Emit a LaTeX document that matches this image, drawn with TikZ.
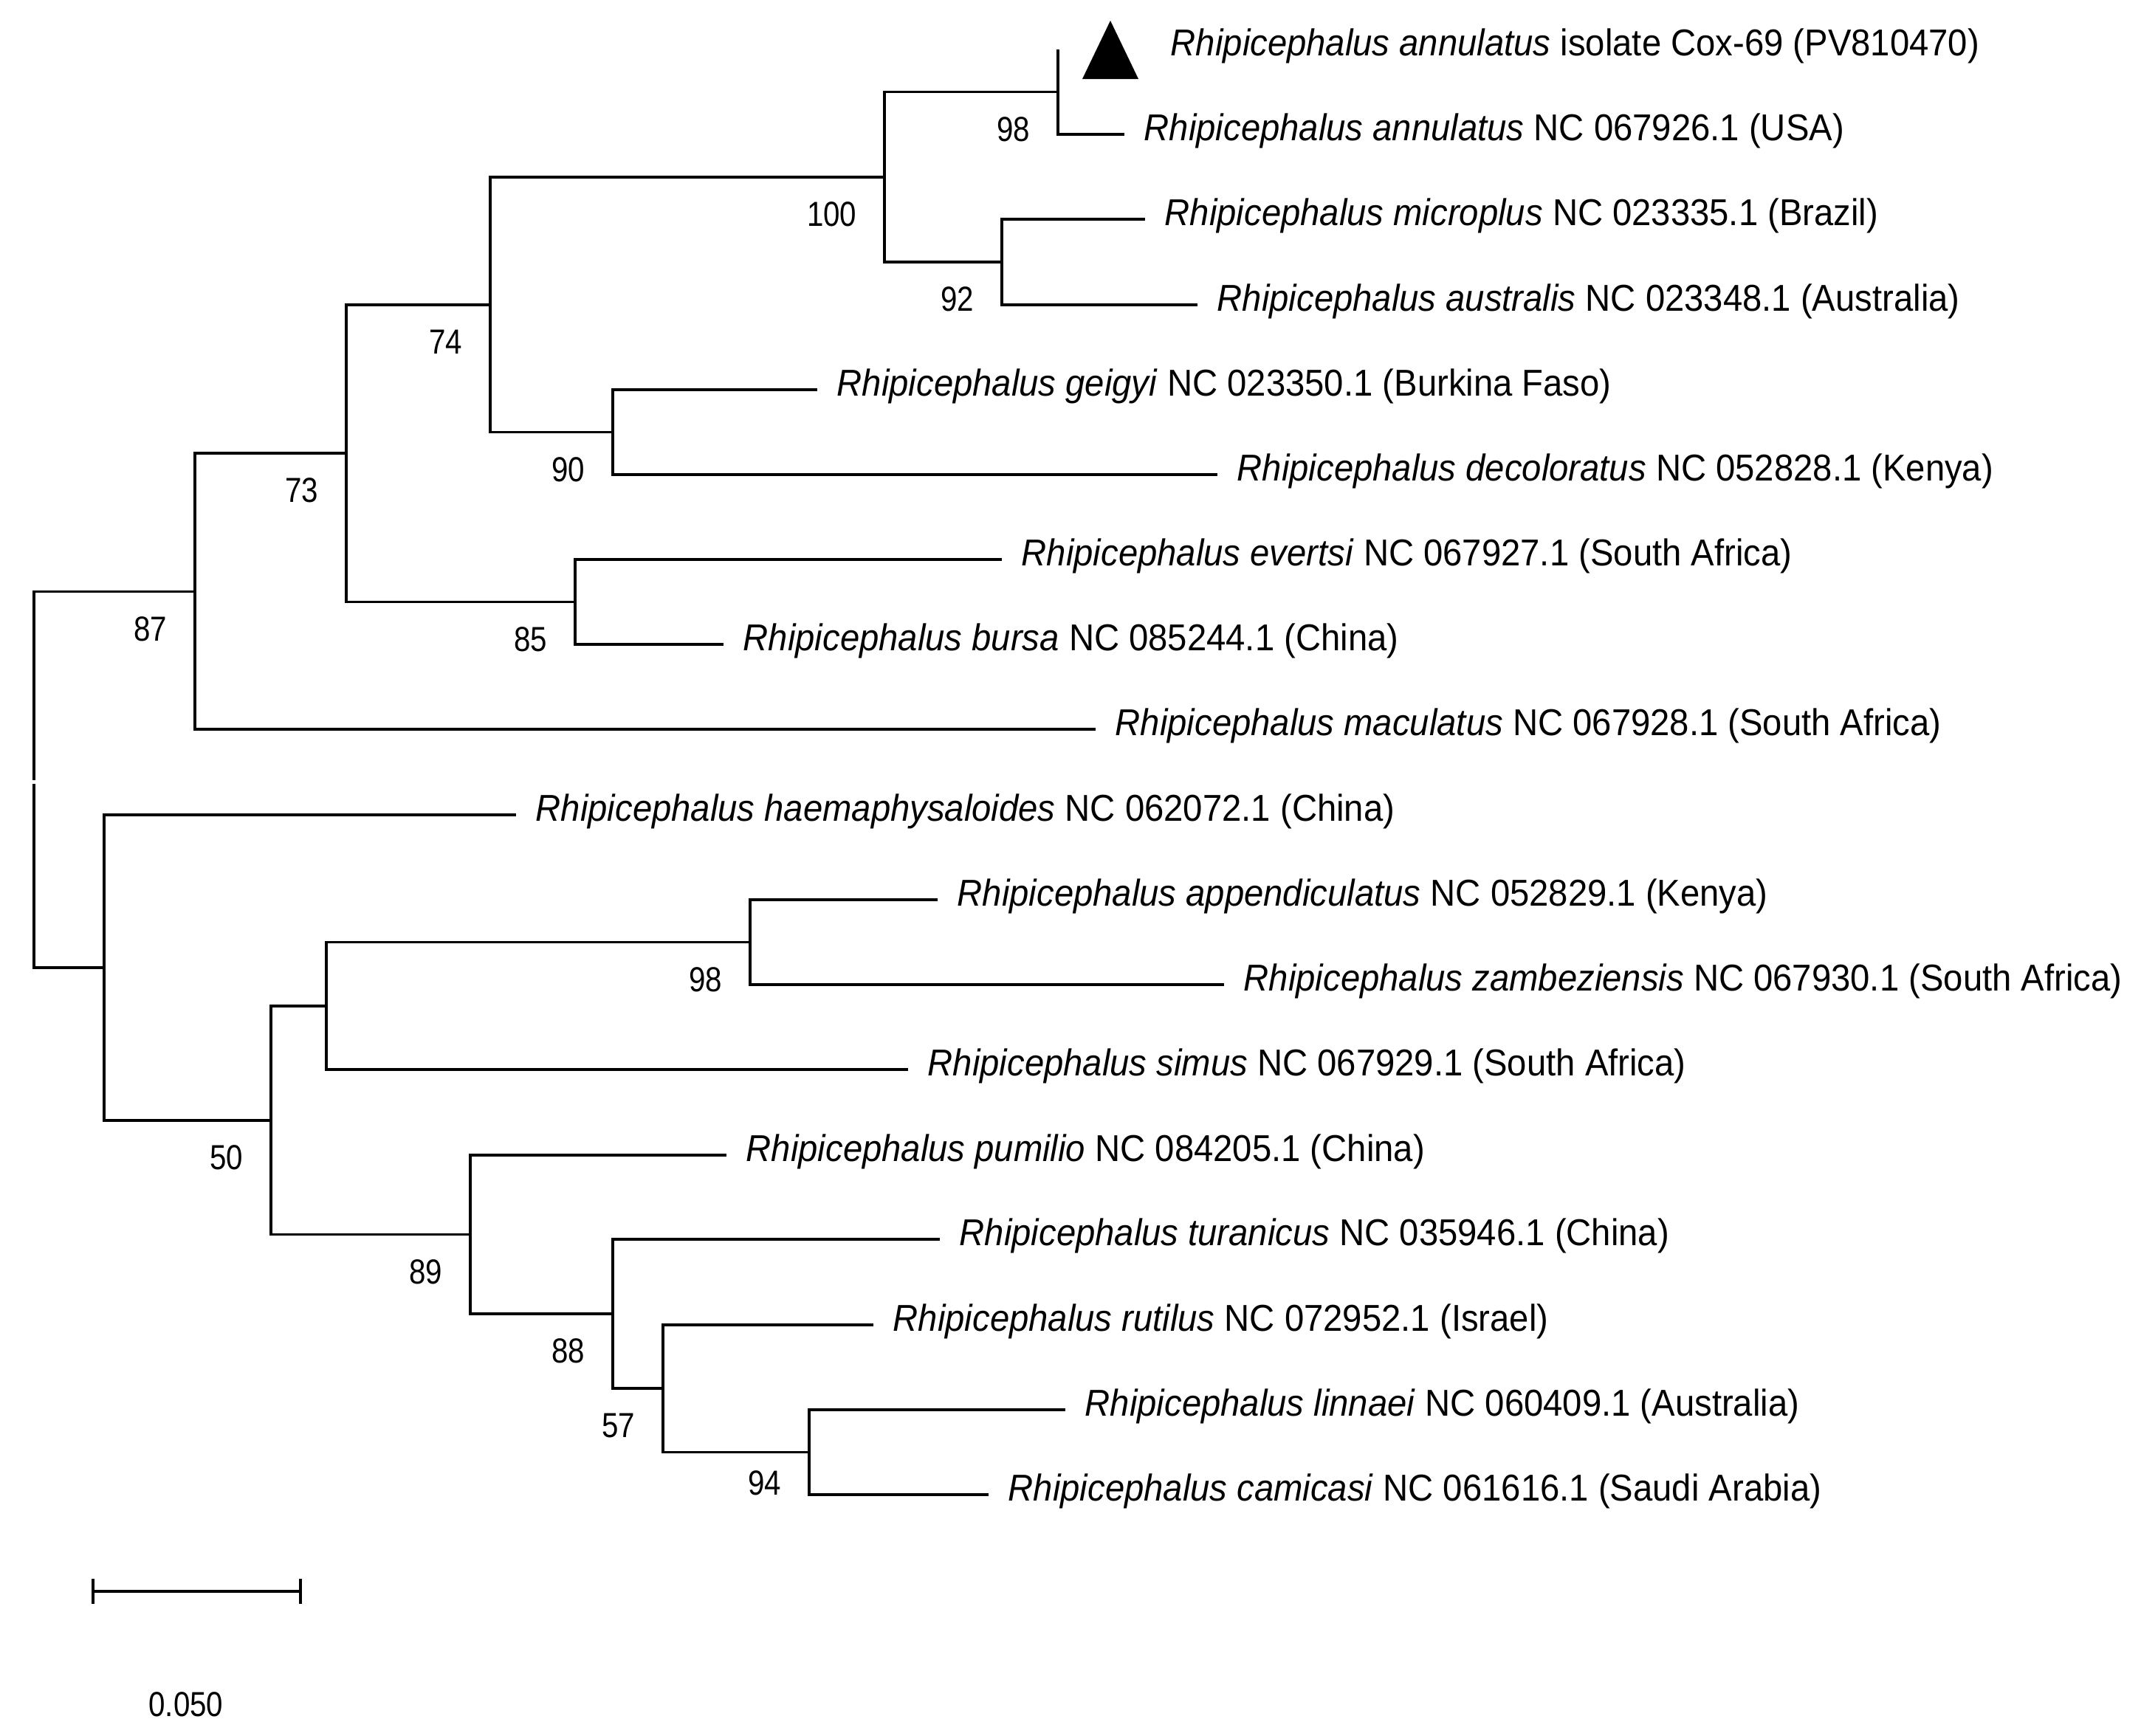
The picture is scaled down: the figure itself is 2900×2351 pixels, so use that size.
\documentclass[tikz,border=0pt]{standalone}
\usepackage{fontspec}
\setmainfont{Liberation Sans}[FakeStretch=0.933]
\newfontfamily\bootfont{Liberation Sans}[FakeStretch=0.855]
\usetikzlibrary{positioning,arrows.meta}

\begin{document}
\begin{tikzpicture}[x=0.01cm,y=-0.01cm,line width=1pt,node distance=0.25cm]
\tikzstyle{taxon}=[inner sep=0pt,yshift=0.05cm,font=\fontsize{14.4}{17}\selectfont]
\tikzstyle{boot}=[inner sep=0pt,font=\bootfont\fontsize{13.4}{16}\selectfont]

\fill[white] (0,0) rectangle (2900,2351);
\useasboundingbox (0,0) rectangle (2900,2351);

% Leaf tips
\coordinate (L1) at (1433,67);
\coordinate (L2) at (1523,182);
\coordinate (L3) at (1551,297);
\coordinate (L4) at (1622,413);
\coordinate (L5) at (1107,528);
\coordinate (L6) at (1649,643);
\coordinate (L7) at (1357,758);
\coordinate (L8) at (980,873);
\coordinate (L9) at (1484,988);
\coordinate (L10) at (699,1104);
\coordinate (L11) at (1270,1219);
\coordinate (L12) at (1658,1334);
\coordinate (L13) at (1230,1449);
\coordinate (L14) at (984,1565);
\coordinate (L15) at (1273,1679);
\coordinate (L16) at (1183,1795);
\coordinate (L17) at (1443,1910);
\coordinate (L18) at (1339,2025);

% Internal nodes
\coordinate (AN) at (1433,124.5);
\coordinate (MA) at (1357,355);
\coordinate (AM) at (1198,240);
\coordinate (GD) at (830,585.5);
\coordinate (UP) at (664,413);
\coordinate (EB) at (779,815.5);
\coordinate (UG) at (469,614);
\coordinate (UH) at (264,801.5);
\coordinate (AZ) at (1016,1276.5);
\coordinate (AS) at (442,1363);
\coordinate (LC) at (1096,1967.5);
\coordinate (RL) at (898,1881);
\coordinate (TR) at (830,1780);
\coordinate (PM) at (637,1672.5);
\coordinate (SP) at (367,1518);
\coordinate (HS) at (141,1311);
\coordinate (RT) at (46,1059);

% Branches, upper clade
\draw (AN) |- (L1);
\draw (AN) |- (L2);
\draw (MA) |- (L3);
\draw (MA) |- (L4);
\draw (AM) |- (AN);
\draw (AM) |- (MA);
\draw (GD) |- (L5);
\draw (GD) |- (L6);
\draw (UP) |- (AM);
\draw (UP) |- (GD);
\draw (EB) |- (L7);
\draw (EB) |- (L8);
\draw (UG) |- (UP);
\draw (UG) |- (EB);
\draw (UH) |- (UG);
\draw (UH) |- (L9);

% Branches, lower clade
\draw (AZ) |- (L11);
\draw (AZ) |- (L12);
\draw (AS) |- (AZ);
\draw (AS) |- (L13);
\draw (LC) |- (L17);
\draw (LC) |- (L18);
\draw (RL) |- (L16);
\draw (RL) |- (LC);
\draw (TR) |- (L15);
\draw (TR) |- (RL);
\draw (PM) |- (L14);
\draw (PM) |- (TR);
\draw (SP) |- (AS);
\draw (SP) |- (PM);
\draw (HS) |- (L10);
\draw (HS) |- (SP);

% Root
\draw[shorten <=0.025cm] (RT) |- (UH);
\draw[shorten <=0.025cm] (RT) |- (HS);

% Marker for the new isolate
\fill (L1) ++(33,40) -- ++(76,0) -- ++(-38,-79) -- cycle;

% Taxon labels
\node[taxon,right=1.51cm of L1] (T1) {\textit{Rhipicephalus annulatus} isolate Cox-69 (PV810470)};
\node[taxon,right=of L2] (T2) {\textit{Rhipicephalus annulatus} NC 067926.1 (USA)};
\node[taxon,right=of L3] (T3) {\textit{Rhipicephalus microplus} NC 023335.1 (Brazil)};
\node[taxon,right=of L4] (T4) {\textit{Rhipicephalus australis} NC 023348.1 (Australia)};
\node[taxon,right=of L5] (T5) {\textit{Rhipicephalus geigyi} NC 023350.1 (Burkina Faso)};
\node[taxon,right=of L6] (T6) {\textit{Rhipicephalus decoloratus} NC 052828.1 (Kenya)};
\node[taxon,right=of L7] (T7) {\textit{Rhipicephalus evertsi} NC 067927.1 (South Africa)};
\node[taxon,right=of L8] (T8) {\textit{Rhipicephalus bursa} NC 085244.1 (China)};
\node[taxon,right=of L9] (T9) {\textit{Rhipicephalus maculatus} NC 067928.1 (South Africa)};
\node[taxon,right=of L10] (T10) {\textit{Rhipicephalus haemaphysaloides} NC 062072.1 (China)};
\node[taxon,right=of L11] (T11) {\textit{Rhipicephalus appendiculatus} NC 052829.1 (Kenya)};
\node[taxon,right=of L12] (T12) {\textit{Rhipicephalus zambeziensis} NC 067930.1 (South Africa)};
\node[taxon,right=of L13] (T13) {\textit{Rhipicephalus simus} NC 067929.1 (South Africa)};
\node[taxon,right=of L14] (T14) {\textit{Rhipicephalus pumilio} NC 084205.1 (China)};
\node[taxon,right=of L15] (T15) {\textit{Rhipicephalus turanicus} NC 035946.1 (China)};
\node[taxon,right=of L16] (T16) {\textit{Rhipicephalus rutilus} NC 072952.1 (Israel)};
\node[taxon,right=of L17] (T17) {\textit{Rhipicephalus linnaei} NC 060409.1 (Australia)};
\node[taxon,right=of L18] (T18) {\textit{Rhipicephalus camicasi} NC 061616.1 (Saudi Arabia)};

% Bootstrap values
\node[boot,below left=0.32cm and 0.36cm of AN] (bAN) {98};
\node[boot,below left=0.32cm and 0.36cm of MA] (bMA) {92};
\node[boot,below left=0.32cm and 0.36cm of AM] (bAM) {100};
\node[boot,below left=0.32cm and 0.36cm of GD] (bGD) {90};
\node[boot,below left=0.32cm and 0.36cm of UP] (bUP) {74};
\node[boot,below left=0.32cm and 0.36cm of EB] (bEB) {85};
\node[boot,below left=0.32cm and 0.36cm of UG] (bUG) {73};
\node[boot,below left=0.32cm and 0.36cm of UH] (bUH) {87};
\node[boot,below left=0.32cm and 0.36cm of AZ] (bAZ) {98};
\node[boot,below left=0.32cm and 0.36cm of SP] (bSP) {50};
\node[boot,below left=0.32cm and 0.36cm of PM] (bPM) {89};
\node[boot,below left=0.32cm and 0.36cm of TR] (bTR) {88};
\node[boot,below left=0.32cm and 0.36cm of RL] (bRL) {57};
\node[boot,below left=0.23cm and 0.36cm of LC] (bLC) {94};

% Scale bar
\coordinate (SB1) at (124,2156);
\coordinate (SB2) at (409,2156);
\coordinate (SBM) at (252,2156);
\draw[{Bar[width=0.34cm]}-{Bar[width=0.34cm]}] (SB1) -- (SB2);
\node[boot,below=1.35cm of SBM] (SBL) {0.050};
\end{tikzpicture}
\end{document}
